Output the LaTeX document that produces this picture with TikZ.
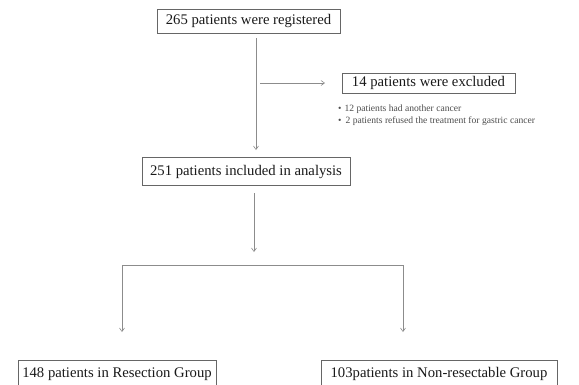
\documentclass[tikz,border=0pt]{standalone}
\usepackage{fontspec}
\setmainfont{Liberation Serif}
\usetikzlibrary{arrows.meta}
\begin{document}
\begin{tikzpicture}[x=1pt,y=-1pt,
  box/.style={draw=black!60, line width=0.6pt, inner sep=0pt, font=\fontsize{14.7}{16}\selectfont, text=black!90},
  conn/.style={draw=black!45, line width=0.6pt},
  arr/.style={conn, -{Straight Barb[length=3.5pt,width=5pt]}},
  note/.style={font=\fontsize{9.6}{11}\selectfont, text=black!70, anchor=west, inner sep=0pt}]
\useasboundingbox (0,0) rectangle (579,384);
\node[box, minimum width=183pt, minimum height=24pt] (top) at (248.5,21) {265 patients were registered};
\node[box, minimum width=173pt, minimum height=20pt] (excl) at (428.5,83) {14 patients were excluded};
\node[note] (n1) at (338,109) {•\hspace{3pt}12 patients had another cancer};
\node[note] (n2) at (338,121) {•\hspace{4pt}2 patients refused the treatment for gastric cancer};
\node[box, minimum width=208pt, minimum height=28pt] (mid) at (246,171.5) {251 patients included in analysis};
\node[box, minimum width=198pt, minimum height=28pt] (res) at (117,374) {148 patients in Resection Group};
\node[box, minimum width=236pt, minimum height=28pt] (non) at (439,374) {103patients in Non-resectable Group};
% connectors
\coordinate (a1) at (256,38);
\coordinate (a2) at (256,150);
\coordinate (h1) at (260,83);
\coordinate (h2) at (325,83);
\coordinate (b1) at (254,193);
\coordinate (b2) at (254,252);
\coordinate (bl) at (122,265);
\coordinate (br) at (403,265);
\coordinate (el) at (122,332);
\coordinate (er) at (403,332);
\draw[arr] (a1) -- (a2);
\draw[arr] (h1) -- (h2);
\draw[arr] (b1) -- (b2);
\draw[conn] (bl) -- (br);
\draw[arr] (bl) -- (el);
\draw[arr] (br) -- (er);
\end{tikzpicture}
\end{document}
